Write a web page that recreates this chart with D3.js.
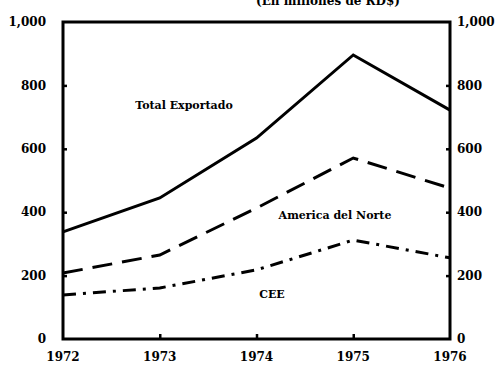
<!DOCTYPE html>
<html>
<head>
<meta charset="utf-8">
<script src="https://cdn.jsdelivr.net/npm/d3@7"></script>
<style>
  html, body { margin: 0; padding: 0; background: #fff; }
  svg { display: block; }
  text { font-family: "DejaVu Serif", serif; font-weight: bold; fill: #000; }
</style>
</head>
<body>
<script>
// Exportaciones por destino, millones de RD$
const years = [1972, 1973, 1974, 1975, 1976];
const totalExportado = [338, 445, 634, 896, 722];
const americaNorte = [208, 265, 413, 571, 476];
const cee = [139, 161, 218, 312, 256];
const yTicks = [0, 200, 400, 600, 800, 1000];
const yTickLabels = ["0", "200", "400", "600", "800", "1,000"];

const W = 496, H = 365;
const m = { left: 63, right: 46, top: 22, bottom: 26 };

const svg = d3.select("body").append("svg")
  .attr("width", W).attr("height", H);

const x = d3.scalePoint().domain(years).range([m.left, W - m.right]);
const y = d3.scaleLinear().domain([0, 1000]).range([H - m.bottom, m.top]);

// Subtítulo (parcialmente fuera del borde superior)
svg.append("text")
  .attr("x", 328).attr("y", 5)
  .attr("text-anchor", "middle")
  .style("font-size", "12px")
  .text("(En millones de RD$)");

// Marco del gráfico
svg.append("rect")
  .attr("x", x(years[0])).attr("y", y(1000))
  .attr("width", x(years[4]) - x(years[0]))
  .attr("height", y(0) - y(1000))
  .attr("fill", "none").attr("stroke", "#000").attr("stroke-width", 3);

// Eje izquierdo
const leftAxis = d3.axisRight(y).tickValues(yTicks.slice(1, -1)).tickSize(4).tickFormat("");
svg.append("g").attr("transform", `translate(${x(years[0])},0)`).call(leftAxis)
  .call(g => g.select(".domain").remove())
  .selectAll("line").attr("stroke", "#000").attr("stroke-width", 2.5);

// Eje derecho
const rightAxis = d3.axisLeft(y).tickValues(yTicks.slice(1, -1)).tickSize(4).tickFormat("");
svg.append("g").attr("transform", `translate(${x(years[4])},0)`).call(rightAxis)
  .call(g => g.select(".domain").remove())
  .selectAll("line").attr("stroke", "#000").attr("stroke-width", 2.5);

// Eje inferior
const bottomAxis = d3.axisTop(x).tickValues(years.slice(1, -1)).tickSize(5).tickFormat("");
svg.append("g").attr("transform", `translate(0,${y(0)})`).call(bottomAxis)
  .call(g => g.select(".domain").remove())
  .selectAll("line").attr("stroke", "#000").attr("stroke-width", 2.5);

// Etiquetas de los ejes
svg.append("g").selectAll("text").data(yTicks).join("text")
  .attr("x", m.left - 17).attr("y", d => y(d))
  .attr("dy", "0.35em").attr("text-anchor", "end")
  .style("font-size", "12px")
  .text((d, i) => yTickLabels[i]);

svg.append("g").selectAll("text").data(yTicks).join("text")
  .attr("x", W - m.right + 7).attr("y", d => y(d))
  .attr("dy", "0.35em").attr("text-anchor", "start")
  .style("font-size", "12px")
  .text((d, i) => yTickLabels[i]);

svg.append("g").selectAll("text").data(years).join("text")
  .attr("x", d => x(d)).attr("y", y(0) + 22)
  .attr("text-anchor", "middle")
  .style("font-size", "12px")
  .text(d => d);

// Series
const line = d3.line().x((d, i) => x(years[i])).y(d => y(d));
const series = [
  { values: totalExportado, dash: null },
  { values: americaNorte, dash: "20,10" },
  { values: cee, dash: "13,7,3,7" }
];
svg.append("g").selectAll("path").data(series).join("path")
  .attr("d", d => line(d.values))
  .attr("fill", "none").attr("stroke", "#000")
  .attr("stroke-width", 3)
  .attr("stroke-dasharray", d => d.dash);

// Rótulos de las series
const labels = [
  { text: "Total Exportado", x: 184, y: 105 },
  { text: "America del Norte", x: 335, y: 215 },
  { text: "CEE", x: 272, y: 294 }
];
svg.append("g").selectAll("text").data(labels).join("text")
  .attr("x", d => d.x).attr("y", d => d.y)
  .attr("dy", "0.35em").attr("text-anchor", "middle")
  .style("font-size", "11px")
  .text(d => d.text);
</script>
</body>
</html>
